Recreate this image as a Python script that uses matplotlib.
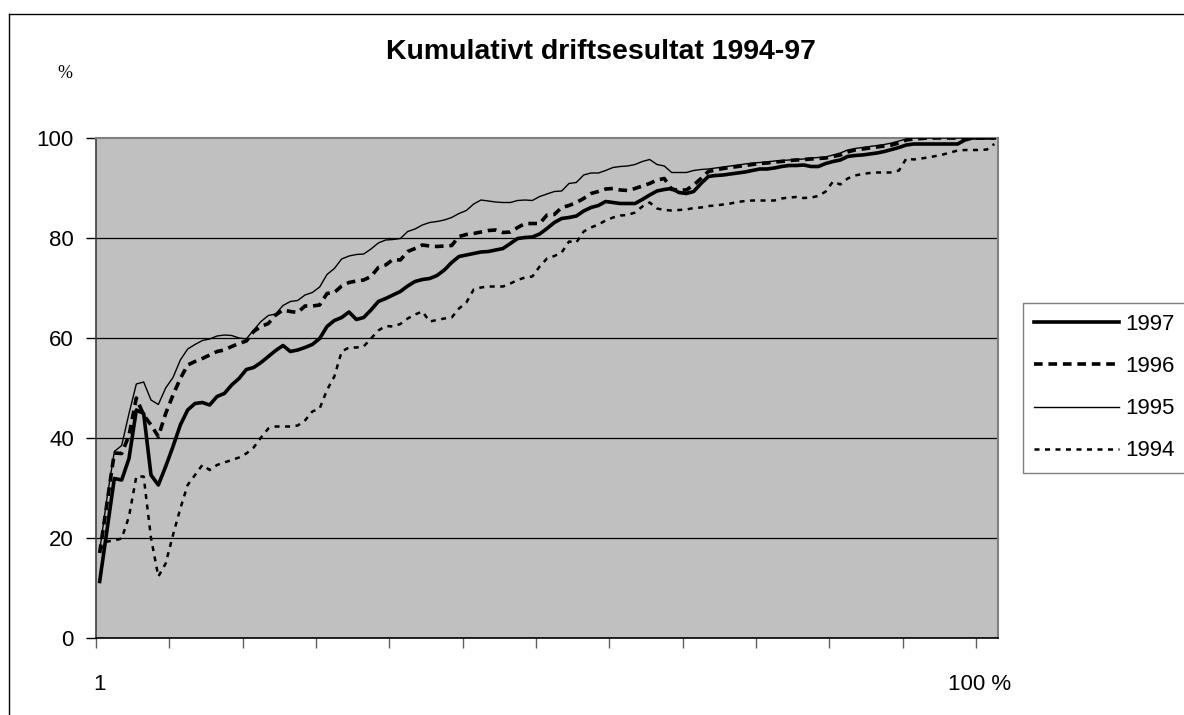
import numpy as np
import matplotlib
matplotlib.use("Agg")
import matplotlib.pyplot as plt
from matplotlib.lines import Line2D

plt.rcParams["font.family"] = ["Liberation Sans", "DejaVu Sans"]

# cumulative share (%) per category, 123 categories
categories = np.arange(1, 124)

res_1997 = [
    11.3, 21.6, 31.9, 31.6, 35.9, 45.6, 44.9, 32.6, 30.6, 34.3,
    38.3, 42.6, 45.6, 46.9, 47.1, 46.6, 48.3, 48.9, 50.6, 51.9,
    53.7, 54.1, 55.1, 56.3, 57.5, 58.5, 57.3, 57.6, 58.1, 58.7,
    59.9, 62.3, 63.5, 64.1, 65.2, 63.7, 64.1, 65.6, 67.3, 67.9,
    68.6, 69.3, 70.4, 71.3, 71.7, 71.9, 72.5, 73.6, 75.1, 76.3,
    76.6, 76.9, 77.2, 77.3, 77.6, 77.9, 78.9, 79.9, 80.1, 80.2,
    80.8, 81.9, 83.1, 83.9, 84.1, 84.4, 85.4, 86.1, 86.5, 87.3,
    87.1, 86.9, 86.9, 86.9, 87.7, 88.6, 89.4, 89.7, 89.9, 89.1,
    88.9, 89.3, 90.9, 92.3, 92.5, 92.6, 92.8, 93.0, 93.2, 93.5,
    93.8, 93.8, 94.0, 94.3, 94.5, 94.5, 94.6, 94.3, 94.3, 94.9,
    95.3, 95.6, 96.3, 96.5, 96.6, 96.8, 97.0, 97.3, 97.7, 98.1,
    98.6, 98.8, 98.8, 98.8, 98.8, 98.8, 98.8, 98.8, 99.6, 100.0,
    100.0, 100.0, 100.0,
]

res_1996 = [
    17.0, 27.0, 37.0, 36.9, 40.5, 48.0, 44.6, 42.6, 40.3, 44.9,
    48.6, 51.9, 54.6, 55.3, 55.9, 56.6, 57.3, 57.6, 58.3, 58.9,
    59.4, 61.3, 62.3, 62.9, 64.6, 65.6, 65.3, 65.1, 66.4, 66.4,
    66.6, 68.9, 69.1, 70.4, 71.1, 71.4, 71.6, 72.3, 74.1, 74.6,
    75.7, 75.6, 77.3, 77.9, 78.6, 78.4, 78.3, 78.4, 78.5, 80.3,
    80.7, 80.9, 81.2, 81.5, 81.6, 81.1, 81.2, 82.1, 82.9, 82.9,
    82.9, 84.6, 84.7, 86.1, 86.5, 87.1, 87.9, 88.9, 89.3, 89.8,
    89.9, 89.6, 89.5, 89.9, 90.4, 90.9, 91.6, 91.9, 89.7, 89.6,
    89.6, 90.6, 91.9, 93.3, 93.6, 93.9, 94.1, 94.3, 94.5, 94.7,
    94.9, 95.0, 95.2, 95.3, 95.5, 95.6, 95.7, 95.8, 95.9, 96.0,
    96.3, 96.6, 97.2, 97.6, 97.8, 98.0, 98.2, 98.4, 98.6, 99.0,
    99.6, 99.8, 99.9, 100.0, 100.0, 100.0, 100.0, 100.0, 100.0, 100.0,
    100.0, 100.0, 100.0,
]

res_1995 = [
    17.5, 28.0, 37.3, 38.5, 44.9, 50.8, 51.2, 47.6, 46.7, 50.0,
    52.1, 55.6, 57.8, 58.7, 59.5, 59.8, 60.4, 60.6, 60.5, 60.0,
    59.8, 61.6, 63.3, 64.5, 64.8, 66.5, 67.3, 67.5, 68.6, 69.1,
    70.2, 72.7, 73.9, 75.8, 76.4, 76.7, 76.8, 77.8, 79.0, 79.6,
    79.7, 79.9, 81.3, 81.8, 82.6, 83.1, 83.3, 83.6, 84.1, 84.9,
    85.5, 86.8, 87.6, 87.4, 87.2, 87.1, 87.1, 87.5, 87.6, 87.5,
    88.3, 88.8, 89.3, 89.4, 90.9, 91.1, 92.6, 93.0, 93.0, 93.5,
    94.1, 94.3, 94.4, 94.7, 95.3, 95.7, 94.7, 94.4, 93.1, 93.1,
    93.1, 93.5, 93.7, 93.8, 94.0, 94.2, 94.4, 94.6, 94.8, 95.0,
    95.1, 95.2, 95.4, 95.5, 95.6, 95.7, 95.8, 96.0, 96.1, 96.2,
    96.6, 97.0, 97.6, 97.9, 98.1, 98.3, 98.5, 98.7, 99.0, 99.4,
    99.8, 100.0, 100.0, 100.0, 100.0, 100.0, 100.0, 100.0, 100.0, 100.0,
    100.0, 100.0, 100.0,
]

res_1994 = [
    17.5, 19.3, 19.5, 19.9, 24.3, 32.3, 32.3, 20.0, 12.3, 14.9,
    20.6, 25.9, 30.6, 32.6, 34.6, 33.6, 34.6, 35.1, 35.6, 36.1,
    36.9, 38.1, 40.1, 41.9, 42.3, 42.3, 42.3, 42.5, 43.5, 45.3,
    45.9, 49.6, 52.3, 57.3, 58.1, 58.1, 58.3, 59.9, 61.5, 62.4,
    62.3, 62.8, 63.9, 64.7, 65.3, 63.3, 63.6, 63.9, 64.1, 65.9,
    67.1, 69.7, 70.1, 70.3, 70.3, 70.3, 70.9, 71.6, 72.1, 72.3,
    74.3, 75.9, 76.4, 77.1, 79.3, 79.1, 81.3, 82.1, 82.7, 83.5,
    84.1, 84.5, 84.6, 85.1, 86.3, 87.1, 85.9, 85.6, 85.5, 85.6,
    85.7, 86.0, 86.1, 86.4, 86.5, 86.7, 86.9, 87.2, 87.4, 87.5,
    87.5, 87.5, 87.5, 87.9, 88.1, 88.2, 88.0, 88.1, 88.4, 89.3,
    91.3, 90.7, 91.9, 92.5, 92.8, 93.0, 93.1, 93.1, 93.1, 93.5,
    95.9, 95.7, 95.9, 96.1, 96.4, 96.7, 97.1, 97.5, 97.6, 97.6,
    97.6, 97.7, 98.8,
]

years = ["1997", "1996", "1995", "1994"]
x_labels = {1: "1", 121: "100 %"}

W, H = 1184, 715
fig = plt.figure(figsize=(W / 100, H / 100), dpi=100)
fig.patch.set_facecolor("white")

# outer chart frame (runs off the right/bottom edge)
fig.add_artist(Line2D([9 / W, 1.0], [1 - 14 / H, 1 - 14 / H], color="black", lw=1.0))
fig.add_artist(Line2D([9 / W, 9 / W], [0.0, 1 - 14 / H], color="black", lw=1.0))

ax = fig.add_axes([96 / W, 77 / H, 902 / W, 500 / H])
ax.set_facecolor("#c0c0c0")

styles = {
    "1997": dict(color="black", lw=2.6, ls="-"),
    "1996": dict(color="black", lw=2.6, ls=(0, (2.4, 1.6))),
    "1995": dict(color="black", lw=1.0, ls="-"),
    "1994": dict(color="black", lw=1.8, ls=(0, (2.0, 2.2))),
}
series = {"1997": res_1997, "1996": res_1996, "1995": res_1995, "1994": res_1994}
for y in years:
    ax.plot(categories, series[y], label=y, zorder=3, **styles[y])

ax.set_xlim(0.5, len(categories) + 0.5)
ax.set_ylim(0, 100)

ax.set_yticks(range(0, 101, 20))
ax.tick_params(axis="y", direction="out", length=7, width=1, labelsize=16, pad=9)
ax.yaxis.grid(True, color="black", lw=0.9, zorder=1)
ax.get_ygridlines()[-1].set_visible(False)

ax.set_xticks(np.arange(0.5, len(categories), 10))
ax.set_xticklabels([])
ax.tick_params(axis="x", which="major", direction="out", length=7, width=1, color="#606060")
ax.set_xticks(list(x_labels.keys()), labels=list(x_labels.values()), minor=True)
ax.tick_params(axis="x", which="minor", length=0, labelsize=16, pad=26)

for side in ["top", "right"]:
    ax.spines[side].set_color("#808080")
    ax.spines[side].set_linewidth(1.5)
ax.spines["left"].set_color("#404040")
ax.spines["bottom"].set_color("black")
ax.spines["left"].set_linewidth(1.2)
ax.spines["bottom"].set_linewidth(1.2)

fig.text(601 / W, 1 - 52 / H, "Kumulativt driftsesultat 1994-97", ha="center", va="center",
         fontsize=20.5, fontweight="bold")
fig.text(65 / W, 1 - 73 / H, "%", ha="center", va="center", fontsize=13,
         family=["Liberation Serif", "DejaVu Serif"])

leg = fig.legend(loc="upper left", bbox_to_anchor=(1023 / W, 1 - 303 / H), fontsize=16,
                 handlelength=3.8, handletextpad=0.3, labelspacing=0.95, borderpad=0.5,
                 borderaxespad=0, frameon=True, fancybox=False)
leg.get_frame().set_edgecolor("#606060")
leg.get_frame().set_linewidth(1.0)

fig.savefig("out.png", dpi=100)
